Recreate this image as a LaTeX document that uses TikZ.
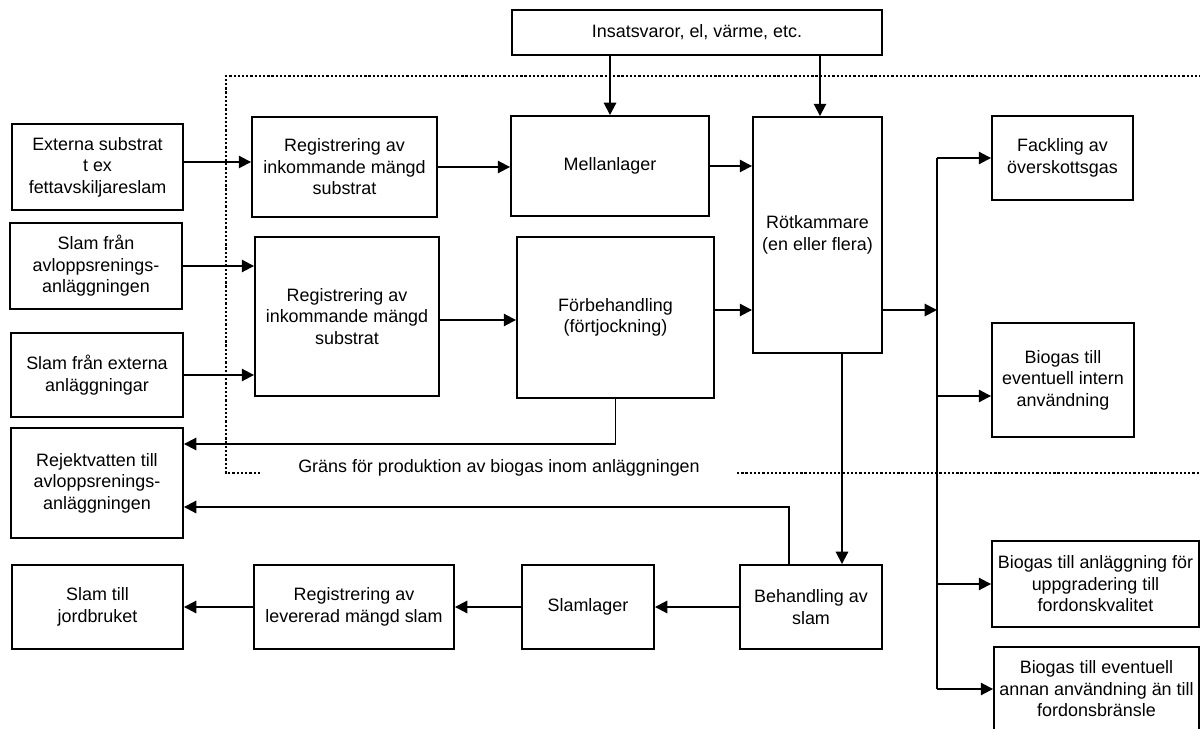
\documentclass[tikz,border=0pt]{standalone}
\usepackage{fontspec}
\setmainfont{Liberation Sans}
\usetikzlibrary{arrows.meta, calc}

\begin{document}
\begin{tikzpicture}[x=0.02cm, y=-0.02cm,
            box/.style={draw, line width=1.1pt, align=center, inner sep=1pt, font=\fontsize{10.2}{12.2}\selectfont},
            arr/.style={line width=1.1pt, -{Triangle[length=7pt, width=7pt]}},
            grans/.style={line width=1.4pt, dash pattern=on 1.3pt off 1.1pt}]
            \useasboundingbox (0,0) rectangle (1200,729);
            \draw[grans] (260,473) -- (226,473) -- (226,76) -- (1200,76);
            \draw[grans] (737,473) -- (1200,473);
            \node[font=\fontsize{10.2}{12.2}\selectfont] (gtxt) at (499,468) {Gräns för produktion av biogas inom anläggningen};
            \node[box, minimum width=7.4cm, minimum height=0.9cm] (ins) at (697,32.5) {Insatsvaror, el, värme, etc.};
            \node[box, minimum width=3.42cm, minimum height=1.72cm] (ext) at (97.5,167) {Externa substrat\\t ex\\fettavskiljareslam};
            \node[box, minimum width=3.44cm, minimum height=1.72cm] (avl) at (96,266) {Slam från\\avloppsrenings-\\anläggningen};
            \node[box, minimum width=3.44cm, minimum height=1.68cm] (extanl) at (97,375) {Slam från externa\\anläggningar};
            \node[box, minimum width=3.44cm, minimum height=2.2cm] (rej) at (97,483) {Rejektvatten till\\avloppsrenings-\\anläggningen};
            \node[box, minimum width=3.42cm, minimum height=1.68cm] (jord) at (97.5,607) {Slam till\\jordbruket};
            \node[box, minimum width=3.7cm, minimum height=2cm] (reg1) at (344.5,167) {Registrering av\\inkommande mängd\\substrat};
            \node[box, minimum width=3.68cm, minimum height=3.18cm] (reg2) at (347,316.5) {Registrering av\\inkommande mängd\\substrat};
            \node[box, minimum width=3.96cm, minimum height=2cm] (mel) at (610,166) {Mellanlager};
            \node[box, minimum width=3.94cm, minimum height=3.22cm] (forb) at (615.5,317.5) {Förbehandling\\(förtjockning)};
            \node[box, minimum width=2.58cm, minimum height=4.72cm] (rot) at (817.5,235) {Rötkammare\\(en eller flera)};
            \node[box, minimum width=2.82cm, minimum height=1.68cm] (fack) at (1062.5,158) {Fackling av\\överskottsgas};
            \node[box, minimum width=2.84cm, minimum height=2.28cm] (intern) at (1063,380) {Biogas till\\eventuell intern\\användning};
            \node[box, minimum width=4.14cm, minimum height=1.72cm] (uppg) at (1095.5,584) {Biogas till anläggning för\\uppgradering till\\fordonskvalitet};
            \node[box, minimum width=4.1cm, minimum height=1.68cm] (annan) at (1096.5,689) {Biogas till eventuell\\annan användning än till\\fordonsbränsle};
            \node[box, minimum width=2.84cm, minimum height=1.68cm] (beh) at (811,607) {Behandling av\\slam};
            \node[box, minimum width=2.64cm, minimum height=1.68cm] (slag) at (588,607) {Slamlager};
            \node[box, minimum width=4cm, minimum height=1.68cm] (reglev) at (354,607) {Registrering av\\levererad mängd slam};
            \coordinate (a1) at (0,162);
            \coordinate (a2) at (0,320);
            \coordinate (gas) at (937,310);
            \coordinate (b2) at (937,396);
            \coordinate (dn) at (842,0);
            \coordinate (ins2) at (820,0);
            \coordinate (r1) at (615,444);
            \coordinate (r2) at (789,507);
            \draw[arr] (mel.north |- ins.south) -- (mel.north);
            \draw[arr] (ins2 |- ins.south) -- (ins2 |- rot.north);
            \draw[arr] (ext.east |- a1) -- (reg1.west |- a1);
            \draw[arr] (avl.east) -- (avl.east -| reg2.west);
            \draw[arr] (extanl.east) -- (extanl.east -| reg2.west);
            \draw[arr] (reg1.east) -- (reg1.east -| mel.west);
            \draw[arr] (reg2.east |- a2) -- (forb.west |- a2);
            \draw[arr] (mel.east) -- (mel.east -| rot.west);
            \draw[arr] (forb.east |- gas) -- (rot.west |- gas);
            \draw[arr] (gas -| rot.east) -- (gas);
            \draw[line width=1.1pt] (fack.west -| gas) -- (annan.west -| gas);
            \draw[arr] (fack.west -| gas) -- (fack.west);
            \draw[arr] (b2) -- (b2 -| intern.west);
            \draw[arr] (uppg.west -| gas) -- (uppg.west);
            \draw[arr] (annan.west -| gas) -- (annan.west);
            \draw[arr] (rot.south -| dn) -- (beh.north -| dn);
            \draw[arr] (forb.south) |- (rej.east |- r1);
            \draw[arr] (beh.north -| r2) |- (rej.east |- r2);
            \draw[arr] (beh.west) -- (slag.east);
            \draw[arr] (slag.west) -- (reglev.east);
            \draw[arr] (reglev.west) -- (jord.east);
        \end{tikzpicture}
\end{document}
